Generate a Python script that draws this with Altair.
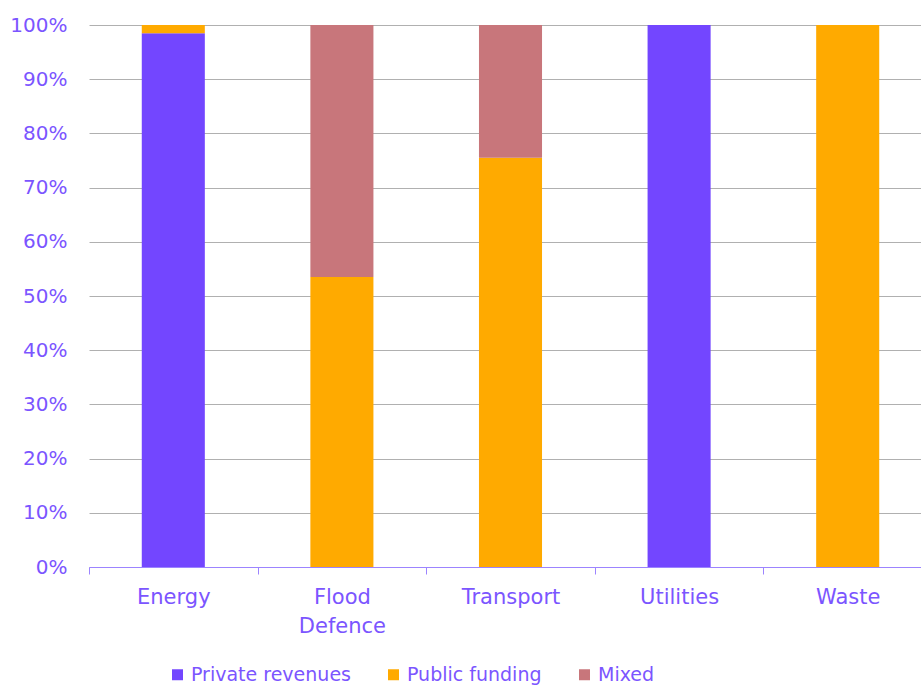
import altair as alt
import pandas as pd

categories = ["Energy", "Flood Defence", "Transport", "Utilities", "Waste"]
series = ["Private revenues", "Public funding", "Mixed"]
private_revenues = [98.5, 0, 0, 100, 0]
public_funding = [1.5, 53.5, 75.5, 0, 100]
mixed = [0, 46.5, 24.5, 0, 0]
y_ticks = [0, 10, 20, 30, 40, 50, 60, 70, 80, 90, 100]
colors = ["#7346FF", "#FFAA00", "#C8767B"]

rows = []
for vals, s, o in [(private_revenues, series[0], 0), (public_funding, series[1], 1), (mixed, series[2], 2)]:
    for c, v in zip(categories, vals):
        rows.append({"category": c, "series": s, "value": v, "order": o})
df = pd.DataFrame(rows)

TEXT = "#7B55FF"
FONT = "DejaVu Sans"

chart = alt.Chart(df).mark_bar().encode(
    x=alt.X("category:N", sort=categories, title=None,
            scale=alt.Scale(range=[0, 843], paddingInner=0.626, paddingOuter=0.313),
            axis=alt.Axis(labelAngle=0, tickSize=7, tickColor="#9C84FF", tickOffset=-84.3,
                          labelOffset=84.3,
                          domainColor="#9C84FF", labelColor=TEXT, labelFont=FONT, labelFontSize=21,
                          labelPadding=12, labelLineHeight=29, labelBaseline="top",
                          labelExpr="datum.label == 'Flood Defence' ? ['Flood', 'Defence'] : datum.label")),
    y=alt.Y("value:Q", stack="zero", title=None,
            scale=alt.Scale(domain=[0, 100], nice=False),
            axis=alt.Axis(values=y_ticks, labelExpr="datum.value + '%'", domain=False, ticks=False,
                          gridColor="#B0B0B0", labelColor=TEXT, labelFont=FONT, labelFontSize=20,
                          labelPadding=22)),
    color=alt.Color("series:N", sort=series, scale=alt.Scale(domain=series, range=colors),
                    legend=alt.Legend(title=None, orient="none", direction="horizontal",
                                      legendX=79, legendY=640, symbolType="square", symbolSize=121,
                                      symbolStrokeWidth=0, labelColor=TEXT, labelFont=FONT,
                                      labelFontSize=19, labelOffset=4, columnPadding=33, padding=0,
                                      labelLimit=0)),
    order=alt.Order("order:Q"),
).properties(
    width=832, height=542,
    background="white",
    autosize=alt.AutoSizeParams(type="none"),
    padding={"left": 89, "top": 25, "right": 0, "bottom": 121},
).configure_view(stroke=None)

chart.save("out.html", embed_options={"renderer": "svg", "actions": False})
